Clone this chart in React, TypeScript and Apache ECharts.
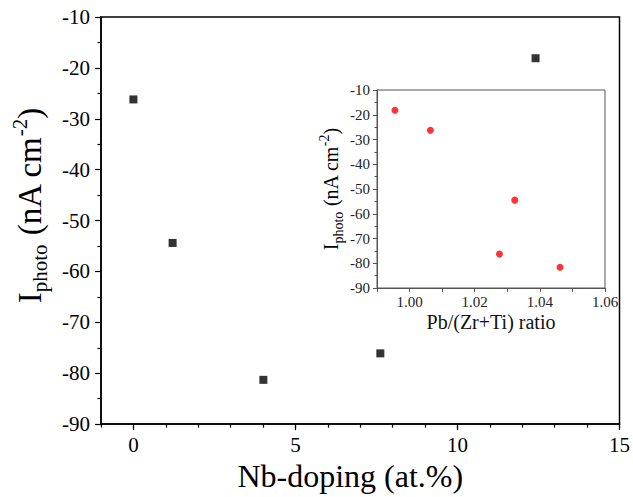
import React, { useEffect, useRef } from "react";
import * as echarts from "echarts";

const mainX = [0, 1.21, 4.01, 7.62, 12.41];
const mainY = [-26.2, -54.4, -81.3, -76.1, -18.1];
const insetX = [0.9955, 1.0064, 1.0276, 1.0323, 1.0462];
const insetY = [-18.2, -26.3, -76.3, -54.5, -81.6];
const mainXLabels = [0, 5, 10, 15];

const FONT = "Liberation Serif";

export default function App() {
  const ref = useRef<HTMLDivElement>(null);
  useEffect(() => {
    if (!ref.current) return;
    const chart = echarts.init(ref.current, null, { renderer: "svg" });
    const richY = (big: number, small: number) => ({
      a: { fontSize: big, fontFamily: FONT, color: "#000", lineHeight: big + 8 },
      b: { fontSize: small, fontFamily: FONT, color: "#000", verticalAlign: "bottom", lineHeight: small + 1 },
      c: { fontSize: small, fontFamily: FONT, color: "#000", verticalAlign: "top", lineHeight: small + 1 },
    });
    chart.setOption({
      animation: false,
      backgroundColor: "#fff",
      textStyle: { fontFamily: FONT },
      grid: [
        { left: 101, top: 17, right: 11, bottom: 66, show: true, borderColor: "#000", borderWidth: 1.5, backgroundColor: "transparent" },
        { left: 377, top: 90, width: 228, height: 198, show: true, borderColor: "#555", borderWidth: 1, backgroundColor: "transparent" },
      ],
      xAxis: [
        {
          type: "value", gridIndex: 0, min: -1, max: 15, interval: 1,
          axisLine: { show: true, onZero: false, lineStyle: { color: "#000", width: 1.5 } },
          axisTick: { show: true, length: 3.5, lineStyle: { color: "#000", width: 1.2 } },
          axisLabel: { show: false },
          splitLine: { show: false },
        },
        {
          type: "value", gridIndex: 0, min: -1, max: 15, position: "bottom",
          axisLine: { show: false, onZero: false },
          axisTick: { show: true, length: 6, customValues: mainXLabels, lineStyle: { color: "#000", width: 1.2 } },
          axisLabel: { show: true, customValues: mainXLabels, fontSize: 21, fontFamily: FONT, color: "#000", margin: 10 },
          splitLine: { show: false },
          name: "Nb-doping (at.%)",
          nameLocation: "middle",
          nameGap: 24,
          nameTextStyle: { fontSize: 32, fontFamily: FONT, color: "#000", padding: [0, 20, 0, 0] },
        },
        {
          type: "value", gridIndex: 1, min: 0.99, max: 1.06, interval: 0.01,
          axisLine: { show: true, onZero: false, lineStyle: { color: "#555", width: 1 } },
          axisTick: { show: true, length: 4, lineStyle: { color: "#555" } },
          axisLabel: {
            fontSize: 15, fontFamily: FONT, color: "#222", margin: 6,
            formatter: (v: number) => (Math.round(v * 100) % 2 === 0 ? v.toFixed(2) : ""),
          },
          splitLine: { show: false },
          name: "Pb/(Zr+Ti) ratio",
          nameLocation: "middle",
          nameGap: 24,
          nameTextStyle: { fontSize: 20, fontFamily: FONT, color: "#111" },
        },
      ],
      yAxis: [
        {
          type: "value", gridIndex: 0, min: -90, max: -10, interval: 10,
          axisLine: { show: true, onZero: false, lineStyle: { color: "#000", width: 1.5 } },
          axisTick: { show: true, length: 6, lineStyle: { color: "#000", width: 1.2 } },
          minorTick: { show: true, splitNumber: 2, length: 3.5, lineStyle: { color: "#000", width: 1.2 } },
          axisLabel: { fontSize: 21, fontFamily: FONT, color: "#000", margin: 11 },
          splitLine: { show: false },
          name: "{a|I}{b|photo}{a| (nA cm}{c|-2}{a|)}",
          nameLocation: "middle",
          nameGap: 51,
          nameTextStyle: { fontFamily: FONT, color: "#000", rich: richY(33, 21), padding: [0, 0, 0, 30] },
        },
        {
          type: "value", gridIndex: 1, min: -90, max: -10, interval: 10,
          axisLine: { show: true, onZero: false, lineStyle: { color: "#555", width: 1 } },
          axisTick: { show: true, length: 4, lineStyle: { color: "#555" } },
          minorTick: { show: true, splitNumber: 2, length: 2.5, lineStyle: { color: "#555" } },
          axisLabel: { fontSize: 15, fontFamily: FONT, color: "#222", margin: 7 },
          splitLine: { show: false },
          name: "{a|I}{b|photo}{a| (nA cm}{c|-2}{a|)}",
          nameLocation: "middle",
          nameGap: 32,
          nameTextStyle: { fontFamily: FONT, color: "#000", rich: richY(20, 14) },
        },
      ],
      series: [
        {
          type: "scatter", xAxisIndex: 0, yAxisIndex: 0,
          symbol: "rect", symbolSize: 8,
          itemStyle: { color: "#000" },
          data: mainX.map((x, i) => [x, mainY[i]]),
        },
        {
          type: "scatter", xAxisIndex: 2, yAxisIndex: 1,
          symbol: "circle", symbolSize: 7,
          itemStyle: { color: "#ff0000" },
          data: insetX.map((x, i) => [x, insetY[i]]),
        },
      ],
    });
    return () => chart.dispose();
  }, []);
  return <div ref={ref} style={{ width: 633, height: 497, position: "absolute", left: 0, top: 0 }} />;
}
